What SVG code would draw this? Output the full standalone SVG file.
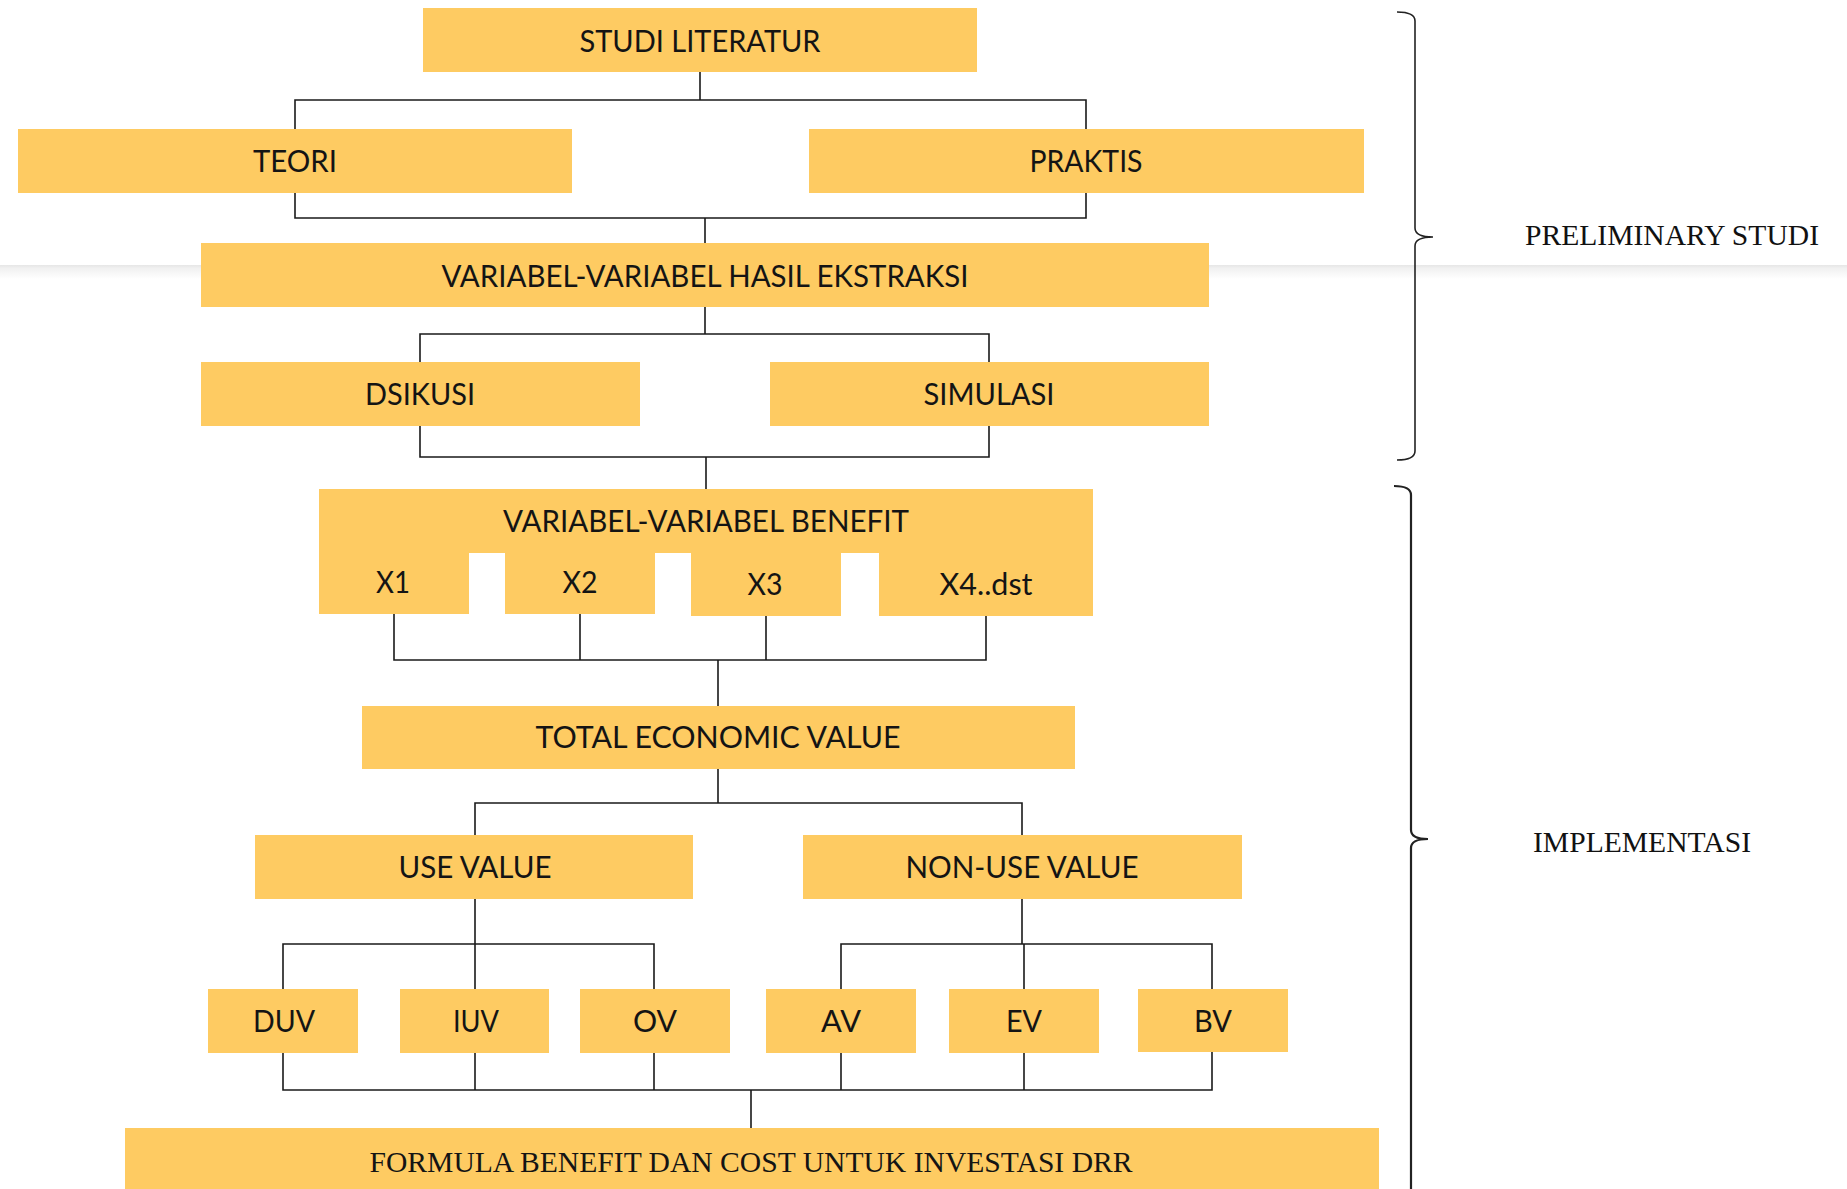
<svg xmlns="http://www.w3.org/2000/svg" width="1847" height="1189" viewBox="0 0 1847 1189">
<defs>
<linearGradient id="shade" x1="0" y1="0" x2="0" y2="1">
<stop offset="0" stop-color="#e6e6e6"/>
<stop offset="0.25" stop-color="#f1f1f1"/>
<stop offset="1" stop-color="#ffffff"/>
</linearGradient>
<style>
.box{fill:#FECB62;}
.lbl{font-family:Lato,"Open Sans","Liberation Sans",sans-serif;font-size:30px;fill:#141414;text-anchor:middle;}
.side{font-family:"Liberation Serif","Times New Roman",serif;font-size:29px;fill:#111;}
.formula{font-family:"Liberation Serif","Times New Roman",serif;font-size:30px;fill:#141414;text-anchor:middle;}
.con{fill:none;stroke:#1a1a1a;stroke-width:1.6;}
.brace{fill:none;stroke:#222;stroke-width:1.6;}
</style>
</defs>
<rect x="0" y="0" width="1847" height="1189" fill="#ffffff"/>
<rect x="0" y="265" width="1847" height="14" fill="url(#shade)"/>

<g id="connectors" class="con">
<path d="M700,72 V100 M295,129 V100 H1086 V129"/>
<path d="M295,193 V218 H1086 V193 M705,218 V243"/>
<path d="M705,307 V334 M420,362 V334 H989 V362"/>
<path d="M420,426 V457 H989 V426 M706,457 V489"/>
<path d="M394,614 V660 H986 V616 M580,614 V660 M766,616 V660 M718,660 V706"/>
<path d="M718,769 V803 M475,835 V803 H1022 V835"/>
<path d="M475,899 V989 M283,989 V944 H654 V989"/>
<path d="M1022,899 V944 M841,989 V944 H1212 V989 M1024,944 V989"/>
<path d="M283,1053 V1090 H1212 V1052 M475,1053 V1090 M654,1053 V1090 M841,1053 V1090 M1024,1053 V1090 M751,1090 V1128"/>
</g>

<g id="studi-literatur"><rect class="box" x="423" y="8" width="554" height="64"/><text class="lbl" x="700" y="52" textLength="241" lengthAdjust="spacingAndGlyphs">STUDI LITERATUR</text></g>
<g id="teori"><rect class="box" x="18" y="129" width="554" height="64"/><text class="lbl" x="295" y="172" textLength="84" lengthAdjust="spacingAndGlyphs">TEORI</text></g>
<g id="praktis"><rect class="box" x="809" y="129" width="555" height="64"/><text class="lbl" x="1086" y="172" textLength="113" lengthAdjust="spacingAndGlyphs">PRAKTIS</text></g>
<g id="variabel-hasil"><rect class="box" x="201" y="243" width="1008" height="64"/><text class="lbl" x="705" y="287" textLength="527" lengthAdjust="spacingAndGlyphs">VARIABEL-VARIABEL HASIL EKSTRAKSI</text></g>
<g id="dsikusi"><rect class="box" x="201" y="362" width="439" height="64"/><text class="lbl" x="420" y="405" textLength="110" lengthAdjust="spacingAndGlyphs">DSIKUSI</text></g>
<g id="simulasi"><rect class="box" x="770" y="362" width="439" height="64"/><text class="lbl" x="989" y="405" textLength="131" lengthAdjust="spacingAndGlyphs">SIMULASI</text></g>

<g id="variabel-benefit">
<path class="box" d="M319,489 H1093 V616 H879 V553 H841 V616 H691 V553 H655 V614 H505 V553 H469 V614 H319 Z"/>
<text class="lbl" x="706" y="532" textLength="406" lengthAdjust="spacingAndGlyphs">VARIABEL-VARIABEL BENEFIT</text>
<text class="lbl" x="393" y="593" textLength="34" lengthAdjust="spacingAndGlyphs">X1</text>
<text class="lbl" x="580" y="593" textLength="35" lengthAdjust="spacingAndGlyphs">X2</text>
<text class="lbl" x="765" y="595" textLength="35" lengthAdjust="spacingAndGlyphs">X3</text>
<text class="lbl" x="986" y="595" textLength="93" lengthAdjust="spacingAndGlyphs">X4..dst</text>
</g>

<g id="total-economic-value"><rect class="box" x="362" y="706" width="713" height="63"/><text class="lbl" x="718" y="748" textLength="365" lengthAdjust="spacingAndGlyphs">TOTAL ECONOMIC VALUE</text></g>
<g id="use-value"><rect class="box" x="255" y="835" width="438" height="64"/><text class="lbl" x="475" y="878" textLength="153" lengthAdjust="spacingAndGlyphs">USE VALUE</text></g>
<g id="non-use-value"><rect class="box" x="803" y="835" width="439" height="64"/><text class="lbl" x="1022" y="878" textLength="233" lengthAdjust="spacingAndGlyphs">NON-USE VALUE</text></g>

<g id="duv"><rect class="box" x="208" y="989" width="150" height="64"/><text class="lbl" x="284" y="1032" textLength="62" lengthAdjust="spacingAndGlyphs">DUV</text></g>
<g id="iuv"><rect class="box" x="400" y="989" width="149" height="64"/><text class="lbl" x="476" y="1032" textLength="46" lengthAdjust="spacingAndGlyphs">IUV</text></g>
<g id="ov"><rect class="box" x="580" y="989" width="150" height="64"/><text class="lbl" x="655" y="1032" textLength="44" lengthAdjust="spacingAndGlyphs">OV</text></g>
<g id="av"><rect class="box" x="766" y="989" width="150" height="64"/><text class="lbl" x="841" y="1032" textLength="40" lengthAdjust="spacingAndGlyphs">AV</text></g>
<g id="ev"><rect class="box" x="949" y="989" width="150" height="64"/><text class="lbl" x="1024" y="1032" textLength="36" lengthAdjust="spacingAndGlyphs">EV</text></g>
<g id="bv"><rect class="box" x="1138" y="989" width="150" height="63"/><text class="lbl" x="1213" y="1032" textLength="38" lengthAdjust="spacingAndGlyphs">BV</text></g>

<g id="formula"><rect class="box" x="125" y="1128" width="1254" height="70"/><text class="formula" x="751" y="1172" textLength="763" lengthAdjust="spacingAndGlyphs">FORMULA BENEFIT DAN COST UNTUK INVESTASI DRR</text></g>

<g id="preliminary-brace">
<path class="brace" d="M1397,12 Q1415,12 1415,21 L1415,228 Q1415,237 1433,237 Q1415,237 1415,246 L1415,451 Q1415,460 1397,460"/>
<text class="side" x="1525" y="245" textLength="294" lengthAdjust="spacingAndGlyphs">PRELIMINARY STUDI</text>
</g>
<g id="implementasi-brace">
<path class="brace" style="stroke-width:2.2" d="M1394,486 Q1411,486 1411,495 L1411,830 Q1411,839 1428,839 Q1411,839 1411,848 L1411,1189"/>
<text class="side" x="1533" y="852" textLength="218" lengthAdjust="spacingAndGlyphs">IMPLEMENTASI</text>
</g>
</svg>
